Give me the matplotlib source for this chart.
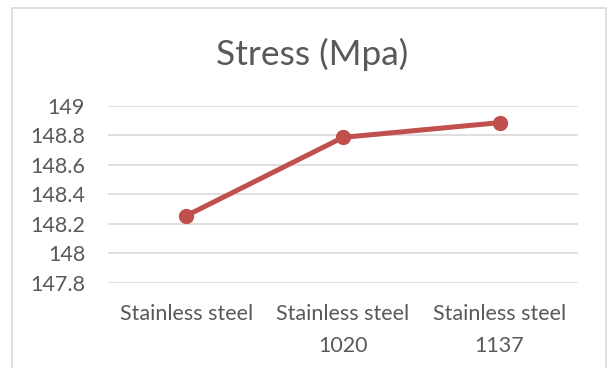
import matplotlib
matplotlib.use("Agg")
import matplotlib.pyplot as plt
from matplotlib.patches import Rectangle

categories = ["Stainless steel", "Stainless steel\n1020", "Stainless steel\n1137"]
stress = [148.255, 148.787, 148.887]
yticks = [147.8, 148, 148.2, 148.4, 148.6, 148.8, 149]
ytick_labels = ["147.8", "148", "148.2", "148.4", "148.6", "148.8", "149"]

plt.rcParams['font.family'] = ['Lato', 'DejaVu Sans']
fig = plt.figure(figsize=(6.16, 3.68), dpi=100)
fig.patch.set_facecolor('white')
fig.patches.append(Rectangle((12/616, -0.1), (606-12)/616, 1 - 8/368 + 0.1,
                             transform=fig.transFigure, fill=False,
                             edgecolor='#D9D9D9', linewidth=1.2))

ax = fig.add_axes([108/616, 1-282.7/368, 470/616, (282.7-106)/368])
x = list(range(len(categories)))
ax.plot(x, stress, color='#C0504D', linewidth=3.6, marker='o', markersize=10,
        solid_capstyle='round', zorder=3)
ax.set_xlim(-0.5, len(categories) - 0.5)
ax.set_ylim(147.8, 149)
ax.set_yticks(yticks)
ax.set_yticklabels(ytick_labels)
ax.set_xticks(x)
ax.set_xticklabels(categories, linespacing=1.75, va='top')
for s in ax.spines.values():
    s.set_visible(False)
ax.grid(axis='y', color='#D9D9D9', linewidth=1.2, zorder=0)
ax.tick_params(axis='both', length=0, labelsize=15.5, colors='#595959')
ax.tick_params(axis='y', pad=16.5)
ax.tick_params(axis='x', pad=15)
fig.text(312/616, 1-54/368, "Stress (Mpa)", fontsize=25.5, color='#595959',
         ha='center', va='center')

fig.savefig("out.png", dpi=100)
